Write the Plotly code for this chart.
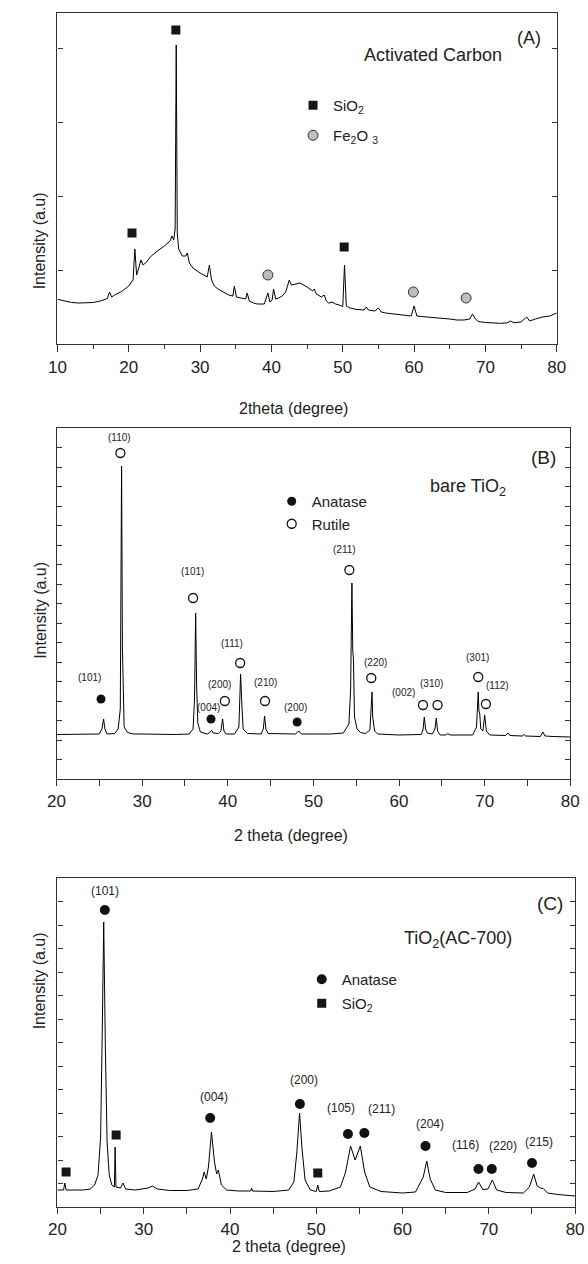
import plotly.graph_objects as go

# ---------------- Panel A : Activated Carbon ----------------
A_x = [10, 11, 12, 13, 14, 15, 16, 17, 17.3, 17.6, 18, 19, 20, 20.6, 20.85, 21.1, 21.4, 21.7, 22.0,
       22.5, 23, 24, 25, 25.8, 26.05, 26.3, 26.5, 26.65, 26.8, 27.0, 27.5, 28.0, 28.2, 28.5, 29, 30,
       31, 31.3, 31.6, 32, 32.5, 33, 33.5, 34, 34.6, 34.8, 35.1, 36, 36.4, 36.6, 36.9, 37.5, 38, 39,
       39.5, 39.8, 40.1, 40.3, 40.6, 41, 41.5, 42, 42.5, 42.8, 43.5, 44, 45, 45.8, 46, 46.3, 47, 47.4,
       47.7, 48, 48.5, 49, 49.5, 50.0, 50.25, 50.5, 51, 52, 53, 53.3, 53.6, 54, 54.5, 55, 55.4, 56,
       57, 58, 59, 59.6, 60.0, 60.4, 61, 62, 63, 64, 65, 66, 67, 67.8, 68.2, 68.6, 69, 70, 71, 72,
       73, 73.5, 74, 75, 75.8, 76.2, 77, 78, 79, 80]
A_y = [44.7, 43, 41.5, 41, 41, 41.5, 43, 45.5, 52, 47, 49, 52.5, 58, 64, 95, 69, 76, 84, 79,
       82, 87, 93, 98, 103, 108, 104, 115, 299, 110, 95, 88, 88, 91, 81, 76, 71,
       67, 79, 64, 58, 55, 53, 51, 49, 48, 58, 47, 46, 45, 51, 43, 41, 40, 40,
       51, 42, 44, 55, 45, 46, 48, 52, 64, 59, 60, 61, 57, 53, 55, 50, 47, 49,
       43, 41, 42, 40, 39, 37.5, 79, 38, 36, 34.5, 34, 37, 34, 33.5, 33, 36, 32, 31,
       30, 29, 28, 28, 38, 28, 27.5, 27, 26, 25.5, 25, 24, 24, 25, 30, 25, 22.5, 21.5, 21, 20.7,
       21, 23, 21.3, 22, 27, 23, 25, 27, 28, 31]
A_sio2_x = [20.45, 26.6, 50.2]
A_sio2_y = [111, 314, 97]
A_fe_x = [39.5, 59.9, 67.3]
A_fe_y = [69, 52, 46]

# ---------------- Panel B : bare TiO2 ----------------
B_x = [20, 22, 24, 25.0, 25.3, 25.5, 25.65, 25.9, 26.8, 27.2, 27.45, 27.6, 27.7, 27.78, 27.9, 28.3,
       29, 30, 32, 34, 35.5, 35.95, 36.12, 36.25, 36.36, 36.5, 36.8, 37.6, 37.9, 38.1, 38.3, 38.9,
       39.2, 39.4, 39.55, 39.8, 40.8, 41.3, 41.5, 41.58, 41.65, 41.8, 42.3, 43.9, 44.15, 44.3, 44.45,
       44.7, 47.9, 48.3, 48.6, 50, 52, 53.5, 54.15, 54.35, 54.5, 54.6, 54.68, 54.8, 55.1, 55.5, 56.1,
       56.6, 56.85, 56.93, 57.0, 57.15, 57.5, 60, 62.6, 62.8, 62.95, 63.1, 63.3, 63.9, 64.2, 64.35,
       64.5, 64.8, 65.45, 65.7, 65.95, 68.6, 69.05, 69.25, 69.33, 69.42, 69.55, 69.8, 70.0, 70.08,
       70.2, 70.6, 72.45, 72.7, 72.95, 74.4, 74.6, 74.8, 76.5, 76.8, 77.05, 78, 80]
B_y = [44.5, 44.5, 44.5, 45, 50, 60, 50, 45, 45.5, 50, 70, 313, 130, 75, 52, 46.5,
       45, 45, 44.5, 44.5, 45, 50, 80, 166, 95, 56, 47, 45, 46.5, 48.5, 46, 45.5,
       48, 60, 48, 45, 45, 52, 105, 78, 74, 50, 45.5, 45, 50, 63, 50,
       45.5, 45, 48, 45, 45, 45, 46, 55, 90, 196, 128, 120, 62, 50, 46.5, 45.5,
       49, 87, 62, 58, 48, 45, 44, 44.5, 49, 62, 50, 46, 45, 50, 61,
       48, 44, 44, 45.5, 44, 44, 52, 87, 68, 66, 50, 48, 64, 56,
       48, 44, 43.5, 46, 43.5, 43, 44.5, 43, 42.5, 47, 43, 42.5, 42]
B_anatase_x = [25.2, 38.04, 48.1]
B_anatase_y = [80, 60, 57]
B_anatase_lab = ["(101)", "(004)", "(200)"]
B_anatase_lab_x = [23.9, 37.8, 47.9]
B_anatase_lab_y = [102, 72, 72]
B_rutile_x = [27.46, 35.95, 39.66, 41.45, 44.35, 54.2, 56.76, 62.8, 64.5, 69.25, 70.15]
B_rutile_y = [326, 181, 78, 116, 78, 209, 101, 74, 74, 102, 75]
B_rutile_lab = ["(110)", "(101)", "(200)", "(111)", "(210)", "(211)", "(220)", "(002)",
                "(310)", "(301)", "(112)"]
B_rutile_lab_x = [27.35, 35.9, 39.0, 40.5, 44.4, 53.6, 57.3, 60.5, 63.8, 69.2, 71.5]
B_rutile_lab_y = [342, 208, 95, 136, 97, 230, 117, 87, 96, 122, 94]

# ---------------- Panel C : TiO2(AC-700) ----------------
C_x = [20, 20.7, 20.85, 21.0, 22, 23, 23.8, 24.3, 24.7, 25.0, 25.2, 25.36, 25.55, 25.75, 26.0, 26.3,
       26.6, 26.68, 26.78, 27.3, 27.6, 27.9, 29, 30.5, 31, 31.6, 33, 35, 36.3, 36.8, 37.0, 37.25,
       37.5, 37.85, 38.2, 38.45, 38.65, 39.0, 39.6, 41, 42.4, 42.5, 42.6, 45, 46.8, 47.4, 47.75,
       48.06, 48.35, 48.7, 49.3, 50.0, 50.17, 50.35, 51.5, 52.8, 53.4, 53.97, 54.5, 55.1, 55.6,
       56.2, 57.5, 60, 61.5, 62.1, 62.4, 62.8, 63.2, 63.8, 65, 67.5, 68.4, 68.8, 69.3, 69.9, 70.4,
       70.9, 72, 74, 74.7, 75.2, 75.6, 76.0, 76.3, 76.8, 78, 80]
C_y = [17, 17, 24, 17, 17, 17, 18, 22, 32, 70, 180, 285, 160, 65, 32, 22,
       20, 60, 20, 19, 24, 18, 17, 19, 21, 18, 16.5, 16.5, 18, 28, 35, 28,
       40, 75, 45, 33, 37, 22, 17, 16, 16, 19, 16, 15.5, 17, 25, 55,
       94, 58, 27, 17, 15.5, 22, 15.5, 16, 20, 35, 61, 47, 61, 35,
       20, 15.5, 14, 15, 24, 30, 46, 28, 17, 14.5, 14.5, 18, 25, 17.5, 18, 27,
       17, 14.5, 14, 20, 33, 21, 19, 18.5, 14, 12.5, 11]
C_anatase_x = [25.49, 37.7, 48.1, 53.67, 55.57, 62.66, 68.8, 70.34, 75.0]
C_anatase_y = [297, 89, 103, 73, 74, 61, 38, 38, 44]
C_lab = ["(101)", "(004)", "(200)", "(105)", "(211)", "(204)", "(116)", "(220)", "(215)"]
C_lab_x = [25.49, 38.2, 48.57, 52.87, 57.55, 63.2, 67.26, 71.6, 75.8]
C_lab_y = [316, 110, 127, 99, 98, 83, 62, 61, 65]
C_sio2_x = [21.0, 26.8, 50.17]
C_sio2_y = [35, 72, 34]

FONT = "Arial, Liberation Sans, Helvetica, sans-serif"
INK = "#222222"
FRAME = "#333333"

fig = go.Figure()

def line(x, y, xa, ya):
    fig.add_trace(go.Scatter(x=x, y=y, mode="lines", line=dict(color="black", width=1),
                             xaxis=xa, yaxis=ya, showlegend=False, hoverinfo="skip"))

line(A_x, A_y, "x", "y")
line(B_x, B_y, "x2", "y2")
line(C_x, C_y, "x3", "y3")

def marks(x, y, xa, ya, name, legend, group, marker):
    fig.add_trace(go.Scatter(x=x, y=y, mode="markers", marker=marker, name=name,
                             xaxis=xa, yaxis=ya, legend=legend, legendgroup=group,
                             cliponaxis=False))

sq = dict(symbol="square", size=9, color="#151515", line=dict(width=0))
marks(A_sio2_x, A_sio2_y, "x", "y", "SiO<sub>2</sub>", "legend", "a1", sq)
marks(A_fe_x, A_fe_y, "x", "y", "Fe<sub>2</sub>O <sub>3</sub>", "legend", "a2",
      dict(symbol="circle", size=10, color="#bdbdbd", line=dict(color="#333", width=1)))
marks(B_anatase_x, B_anatase_y, "x2", "y2", "Anatase", "legend2", "b1",
      dict(symbol="circle", size=9, color="#111", line=dict(width=0)))
marks(B_rutile_x, B_rutile_y, "x2", "y2", "Rutile", "legend2", "b2",
      dict(symbol="circle-open", size=9, color="#111", line=dict(color="#111", width=1.3)))
marks(C_anatase_x, C_anatase_y, "x3", "y3", "Anatase", "legend3", "c1",
      dict(symbol="circle", size=10, color="#111", line=dict(width=0)))
marks(C_sio2_x, C_sio2_y, "x3", "y3", "SiO<sub>2</sub>", "legend3", "c2", sq)

ann = []
def txt(x, y, xr, yr, t, size, **kw):
    d = dict(x=x, y=y, xref=xr, yref=yr, text=t, showarrow=False,
             font=dict(size=size, color=INK, family=FONT))
    d.update(kw)
    ann.append(d)

for lx, ly, t in zip(B_anatase_lab_x, B_anatase_lab_y, B_anatase_lab):
    txt(lx, ly, "x2", "y2", t, 10)
for lx, ly, t in zip(B_rutile_lab_x, B_rutile_lab_y, B_rutile_lab):
    txt(lx, ly, "x2", "y2", t, 10)
for lx, ly, t in zip(C_lab_x, C_lab_y, C_lab):
    txt(lx, ly, "x3", "y3", t, 12)

txt(62.7, 289, "x", "y", "Activated Carbon", 18)
txt(76.1, 306, "x", "y", "(A)", 18)
txt(68.1, 292, "x2", "y2", "bare TiO<sub>2</sub>", 18)
txt(76.9, 322, "x2", "y2", "(B)", 19)
txt(66.4, 268, "x3", "y3", "TiO<sub>2</sub>(AC-700)", 18)
txt(77.1, 304, "x3", "y3", "(C)", 19)

W, H = 588, 1264
for py in (190, 610, 1031):
    txt(21 / W, 1 - py / H, "paper", "paper", "Intensity (a.u)", 16, textangle=-90)
txt(293 / W, 1 - 398 / H, "paper", "paper", "2theta (degree)", 16)
txt(291 / W, 1 - 835 / H, "paper", "paper", "2 theta (degree)", 16)
txt(289 / W, 1 - 1257 / H, "paper", "paper", "2 theta (degree)", 16)

def xaxis(domain, rng, anchor, majlen, minlen):
    return dict(domain=domain, range=rng, anchor=anchor, tickmode="linear", tick0=rng[0], dtick=10,
                ticks="outside", ticklen=majlen, tickwidth=1.2, tickcolor=FRAME,
                minor=dict(dtick=5, tick0=rng[0], ticks="outside", ticklen=minlen, tickwidth=1.2,
                           tickcolor=FRAME, showgrid=False),
                showline=True, linecolor=FRAME, linewidth=1.3, mirror=True,
                showgrid=False, zeroline=False, tickfont=dict(size=17, color=INK, family=FONT))

def topaxis(over, anchor, rng):
    return dict(overlaying=over, anchor=anchor, side="top", range=rng, tickmode="linear",
                tick0=rng[0], dtick=5, ticks="inside", ticklen=4, tickwidth=1.2, tickcolor=FRAME,
                showticklabels=False, showline=False, showgrid=False, zeroline=False)

def yaxis(domain, rng, anchor, dt):
    return dict(domain=domain, range=rng, anchor=anchor, tickmode="linear", tick0=0, dtick=dt,
                ticks="inside", ticklen=5, tickwidth=1.2, tickcolor=FRAME, showticklabels=False,
                showline=True, linecolor=FRAME, linewidth=1.3, mirror="ticks",
                showgrid=False, zeroline=False)

def leg(px, py, gap):
    return dict(x=px / W, y=1 - py / H, xanchor="left", yanchor="top", xref="paper", yref="paper",
                bgcolor="rgba(0,0,0,0)", borderwidth=0, tracegroupgap=gap,
                font=dict(size=15, color=INK, family=FONT), itemsizing="trace")

fig.update_layout(
    width=W, height=H, margin=dict(l=0, r=0, t=0, b=0),
    plot_bgcolor="white", paper_bgcolor="white",
    font=dict(family=FONT, color=INK),
    xaxis=xaxis([50 / W, 565 / W], [10, 80], "y", 7, 4),
    yaxis=yaxis([1 - 344 / H, 1 - 13 / H], [0, 331], "x", 74),
    xaxis2=xaxis([49 / W, 579 / W], [20, 80], "y2", 6, 6),
    yaxis2=yaxis([1 - 779 / H, 1 - 428 / H], [0, 351], "x2", 19.5),
    xaxis3=xaxis([50 / W, 584 / W], [20, 80], "y3", 6, 6),
    yaxis3=yaxis([1 - 1207 / H, 1 - 878 / H], [0, 329], "x3", 23.5),
    xaxis4=topaxis("x", "y", [10, 80]),
    xaxis5=topaxis("x2", "y2", [20, 80]),
    xaxis6=topaxis("x3", "y3", [20, 80]),
    legend=leg(293, 89, 7.5),
    legend2=leg(271, 485, 0),
    legend3=leg(302, 963, 1.5),
    annotations=ann,
    showlegend=True,
)

fig.write_html("out.html")
